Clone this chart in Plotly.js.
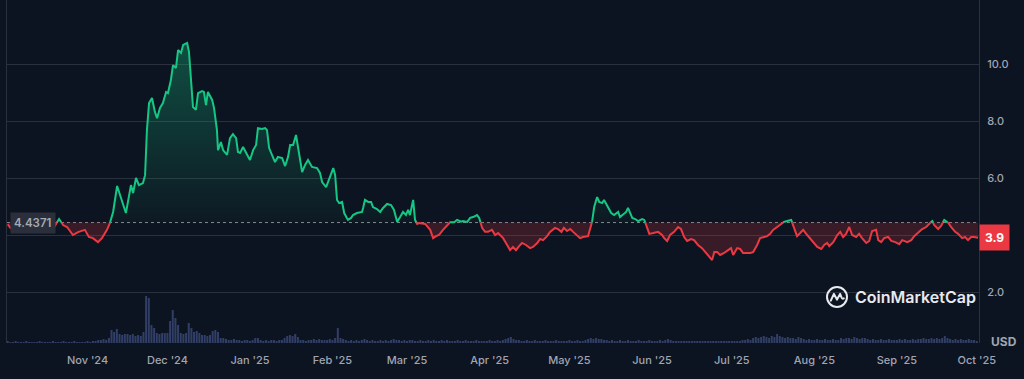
<!DOCTYPE html>
<html>
<head>
<meta charset="utf-8">
<script src="https://cdn.plot.ly/plotly-3.0.1.min.js"></script>
<style>
  html, body { margin: 0; padding: 0; background: #0d1421; }
  #chart { width: 1024px; height: 379px; }
</style>
</head>
<body>
<div id="chart"></div>
<script>
// ---- Data ----
const startDate = '2024-10-02';          // first day of the series
const basePrice = 4.4371;                 // reference (opening) price
const lastPrice = 3.9;

// day offsets from startDate and the price (USD) at each
const priceDays = [
  0,1,3,5,7,9,11,13,15,17.0,19.3,20.8,22.3,24.5,26.4,29.0,30.5,32.0,33.9,35.4,
  37.3,38.4,39.6,41.1,42.9,44.4,46.3,47.1,48.2,49.3,50.8,51.6,52.3,53.1,54.2,55.3,56.1,57.2,58.3,59.5,
  60.2,61.3,62.1,63.2,64.0,65.1,65.9,67.4,68.1,68.9,69.6,70.7,71.5,73.0,73.7,74.5,75.2,76.8,77.5,78.6,
  79.0,80.1,80.9,82.4,83.5,84.6,85.8,86.5,87.3,88.4,89.9,91.0,92.2,93.3,94.0,95.5,96.7,97.4,98.2,99.3,
  100.4,101.5,103.1,104.2,105.3,106.1,107.2,108.3,109.1,110.6,111.7,112.8,114.3,116.2,117.3,118.1,119.6,120.3,121.5,122.3,
  123.0,123.7,124.5,125.6,126.4,127.8,129.0,129.7,131.2,133.1,133.5,134.2,135.4,136.5,137.2,138.7,139.9,141.0,142.5,144.0,
  145.1,146.3,147.4,148.5,149.6,150.4,151.1,152.3,153.0,153.8,154.5,155.7,156.8,158.7,159.8,160.9,162.0,163.5,165.0,166.2,
  167.7,168.8,170.3,171.0,172.6,173.7,174.8,176.3,177.1,178.2,179.3,180.4,181.9,183.1,184.2,186.1,187.6,188.7,189.8,190.9,
  192.1,193.2,194.7,196.2,197.3,198.9,200.0,201.1,202.6,203.7,205.6,206.7,208.0,208.9,210.1,211.3,212.4,213.9,215.0,216.1,
  218.0,219.5,220.3,221.4,222.2,223.3,224.0,225.5,226.7,227.8,229.3,230.0,231.2,232.3,233.0,234.6,235.7,236.8,238.3,239.1,
  240.2,241.0,242.5,244.3,245.8,246.6,247.7,248.8,250.3,251.8,252.9,254.1,255.2,256.7,257.8,259.3,260.8,262.0,263.1,264.6,
  265.4,266.5,267.6,269.1,270.6,271.7,272.5,274.0,275.1,276.2,277.4,278.9,280.0,281.5,282.6,283.8,285.3,286.4,287.5,289.0,
  290.1,291.6,292.8,294.3,295.0,295.8,296.5,297.7,298.8,300.3,301.4,302.9,304.1,305.6,306.7,307.8,308.6,310.1,311.6,312.7,
  313.8,314.9,316.1,317.2,318.7,319.8,320.9,322.5,323.6,324.7,326.2,327.0,328.1,329.2,330.7,331.9,333.4,334.9,336.0,337.9,
  339.4,340.5,342.0,343.5,345.0,346.1,347.3,348.0,349.5,350.6,351.8,353.3,354.4,355.9,357.0,358.5,359.6,360.7,361.9,363.0,
  364.5
];
const priceValues = [
  4.38,4.25,4.30,4.22,4.35,4.28,4.20,4.32,4.25,4.21,4.56,4.35,4.28,4.00,4.10,4.18,3.93,3.89,3.75,3.89,
  4.18,4.42,4.81,5.72,5.23,4.77,5.75,5.47,6.00,5.75,5.82,6.10,7.68,8.63,8.81,8.32,8.10,8.46,8.63,9.02,
  8.98,9.44,9.96,9.86,10.49,10.39,10.67,10.74,10.42,9.44,8.49,8.39,8.98,9.05,9.02,8.56,9.02,8.74,8.46,7.68,
  6.98,7.26,6.98,6.81,7.40,7.54,7.40,6.91,6.88,7.09,6.81,6.63,6.98,7.16,7.75,7.72,7.75,7.68,7.05,6.81,
  6.56,6.74,6.70,6.42,6.74,7.16,7.16,7.51,7.09,6.21,6.46,6.63,6.39,6.35,6.18,5.86,5.68,5.86,6.10,6.35,
  6.10,5.23,5.12,5.16,4.77,4.53,4.60,4.70,4.77,4.81,4.95,5.23,5.16,5.16,4.98,4.91,4.81,4.95,5.09,5.05,
  4.88,4.46,4.63,4.81,4.70,4.88,4.70,5.23,4.53,4.39,4.42,4.40,4.39,4.18,3.89,3.96,4.00,4.18,4.32,4.45,
  4.45,4.53,4.47,4.49,4.46,4.60,4.63,4.70,4.60,4.25,4.11,4.11,4.18,4.00,4.07,3.89,3.65,3.47,3.58,3.47,
  3.61,3.72,3.65,3.54,3.58,3.72,3.86,3.82,3.96,4.11,4.25,4.21,4.11,4.25,4.14,4.21,4.11,4.00,3.89,3.93,
  3.96,4.46,4.98,5.33,5.16,5.12,5.23,4.95,4.77,4.70,4.81,4.63,4.74,4.81,4.95,4.60,4.56,4.49,4.56,4.53,
  4.28,4.04,4.07,4.11,4.00,3.89,3.79,4.00,4.11,4.28,4.21,3.93,3.79,3.86,3.82,3.65,3.54,3.40,3.26,3.12,
  3.40,3.40,3.30,3.37,3.47,3.54,3.30,3.54,3.51,3.37,3.37,3.37,3.40,3.65,3.89,3.93,3.96,4.04,4.18,4.28,
  4.35,4.46,4.49,4.53,4.35,4.07,3.96,4.07,4.18,4.00,3.89,3.72,3.58,3.51,3.65,3.72,3.61,3.75,4.00,4.11,
  3.93,4.04,4.28,4.00,3.93,4.04,3.89,3.72,3.79,4.14,4.18,3.82,3.75,3.89,3.93,3.79,3.75,3.68,3.82,3.75,
  3.82,3.96,4.07,4.21,4.28,4.39,4.49,4.35,4.21,4.32,4.53,4.42,4.28,4.11,4.04,3.89,3.93,3.82,3.93,3.93,
  3.90
];

// daily trading volume (relative units, one bar per day from startDate)
const volumeDaily = [
  2,1,1,2,1,1,1,2,1,1,  1,1,2,1,1,1,1,2,1,1,  1,2,1,1,1,2,1,1,1,1,
  2,1,2,2,3,3,4,3,5,13, 11,14,9,8,9,9,8,9,7,8, 7,11,47,45,18,15,10,9,10,10,
  10,22,33,25,18,10,9,10,20,15, 11,12,10,8,8,7,8,12,13,11, 5,5,4,3,3,4,3,3,2,3,
  3,2,3,5,5,3,2,3,2,3, 3,2,3,3,5,7,8,7,9,6, 3,3,2,3,3,4,3,4,3,3,
  3,4,3,5,15,5,4,3,2,3, 2,3,2,3,4,3,2,3,2,2, 3,2,3,2,3,4,3,3,2,3,
  2,3,3,2,2,3,2,2,3,2, 3,2,2,3,2,3,2,2,2,3, 2,2,3,2,2,2,3,2,2,2,
  2,3,2,2,3,2,3,4,5,6, 4,3,3,2,2,3,2,2,3,2, 2,2,3,2,2,2,3,2,2,2,
  2,3,2,2,3,2,2,3,4,5, 4,5,4,4,3,3,2,3,2,2, 3,2,2,3,2,2,2,3,2,2,
  2,3,2,2,2,3,2,3,4,3, 2,2,2,2,2,2,2,2,2,2, 2,2,2,2,2,2,2,2,2,2,
  2,2,2,2,2,2,3,3,4,3, 5,6,5,6,7,6,5,7,6,9, 7,6,5,6,5,5,4,6,5,4,
  3,4,3,3,4,3,3,4,3,3, 4,3,3,5,4,5,5,4,6,5, 4,5,5,4,3,4,3,3,4,3,
  3,4,3,3,3,4,3,4,3,3, 4,3,4,4,5,4,4,5,4,5, 4,5,7,5,4,3,4,3,4,3,
  3,4,3,3,2
];

const monthTicks = ['2024-11-01','2024-12-01','2025-01-01','2025-02-01','2025-03-01','2025-04-01',
                    '2025-05-01','2025-06-01','2025-07-01','2025-08-01','2025-09-01','2025-10-01'];
const monthLabels = ["Nov '24","Dec '24","Jan '25","Feb '25","Mar '25","Apr '25",
                     "May '25","Jun '25","Jul '25","Aug '25","Sep '25","Oct '25"];
const priceTicks = [2, 4, 6, 8, 10];
const priceTickLabels = ['2.0', '', '6.0', '8.0', '10.0'];

// ---- helpers ----
const DAY = 86400000;
const t0 = Date.parse(startDate + 'T00:00:00Z');
function dayToDate(d) {
  return new Date(t0 + d * DAY).toISOString().slice(0, 19).replace('T', ' ');
}

// insert crossing points with the base price so the colours split exactly there
const denseX = [], denseY = [];
for (let i = 0; i < priceDays.length; i++) {
  denseX.push(priceDays[i]); denseY.push(priceValues[i]);
  if (i < priceDays.length - 1) {
    const a = priceValues[i] - basePrice, b = priceValues[i + 1] - basePrice;
    if (a * b < 0) {
      const t = a / (a - b);
      denseX.push(priceDays[i] + t * (priceDays[i + 1] - priceDays[i]));
      denseY.push(basePrice);
    }
  }
}
const xDates = denseX.map(dayToDate);
const upLine = denseY.map(v => v >= basePrice ? v : null);
const downLine = denseY.map(v => v <= basePrice ? v : null);
const upFill = denseY.map(v => Math.max(v, basePrice));
const downFill = denseY.map(v => Math.min(v, basePrice));
const baseLine = denseY.map(() => basePrice);

const green = '#16c784', red = '#ea3943';

const volX = volumeDaily.map((_, i) => dayToDate(i));

const traces = [
  { type: 'bar', x: volX, y: volumeDaily, yaxis: 'y2', marker: { color: 'rgba(72,88,145,0.62)' },
    hoverinfo: 'skip' },
  { type: 'scatter', mode: 'lines', x: xDates, y: baseLine, line: { width: 0 }, hoverinfo: 'skip' },
  { type: 'scatter', mode: 'lines', x: xDates, y: upFill, line: { width: 0 }, fill: 'tonexty',
    fillcolor: 'rgba(22,199,132,0.18)',
    fillgradient: { type: 'vertical', start: basePrice, stop: 10.8,
      colorscale: [[0, 'rgba(22,199,132,0.03)'], [1, 'rgba(22,199,132,0.33)']] },
    hoverinfo: 'skip' },
  { type: 'scatter', mode: 'lines', x: xDates, y: baseLine, line: { width: 0 }, hoverinfo: 'skip' },
  { type: 'scatter', mode: 'lines', x: xDates, y: downFill, line: { width: 0 }, fill: 'tonexty',
    fillcolor: 'rgba(234,57,67,0.2)', hoverinfo: 'skip' },
  { type: 'scatter', mode: 'lines', x: xDates, y: upLine, line: { color: green, width: 2 },
    connectgaps: false, hoverinfo: 'skip' },
  { type: 'scatter', mode: 'lines', x: xDates, y: downLine, line: { color: red, width: 2 },
    connectgaps: false, hoverinfo: 'skip' }
];

const font = 'Inter, "Noto Sans", sans-serif';
const gridCol = 'rgba(255,255,255,0.12)';

const cmcLogo = 'data:image/svg+xml;charset=utf-8,' + encodeURIComponent(
  '<svg xmlns="http://www.w3.org/2000/svg" width="48" height="48" viewBox="0 0 24 24">' +
  '<circle cx="12" cy="12" r="10" fill="none" stroke="#e8eaee" stroke-width="2"/>' +
  '<path d="M5.8 15.6 L8.9 8.9 L12 14.6 L15.1 8.9 L16.6 12.6 Q17.4 14.2 18.8 13.4" fill="none" stroke="#e8eaee" stroke-width="2" stroke-linejoin="round" stroke-linecap="round"/>' +
  '</svg>');

const layout = {
  width: 1024, height: 379,
  margin: { l: 7, r: 45, t: 0, b: 36 },
  paper_bgcolor: '#0d1421', plot_bgcolor: '#0d1421',
  showlegend: false,
  bargap: 0.25,
  font: { family: font, color: '#a0a5b1', size: 11 },
  xaxis: {
    type: 'date',
    range: [dayToDate(-0.26), dayToDate(364.84)],
    tickvals: monthTicks, ticktext: monthLabels,
    showgrid: false, zeroline: false, showline: false, ticks: '',
    ticklabelstandoff: 9,
    tickfont: { family: font, size: 11, color: '#a0a5b1', weight: 500 },
    fixedrange: true
  },
  yaxis: {
    side: 'right',
    range: [0.2105, 12.246],
    tickvals: priceTicks, ticktext: priceTickLabels,
    showgrid: true, gridcolor: gridCol, gridwidth: 1,
    zeroline: false, showline: true, mirror: true, linecolor: gridCol, linewidth: 1,
    ticks: '', ticklabelstandoff: 5,
    tickfont: { family: font, size: 11, color: '#a0a5b1', weight: 500 },
    fixedrange: true
  },
  yaxis2: { overlaying: 'y', range: [0, 343], visible: false, fixedrange: true },
  shapes: [
    { type: 'line', xref: 'paper', x0: 0, x1: 1, yref: 'y', y0: basePrice, y1: basePrice,
      line: { color: 'rgba(210,214,222,0.6)', width: 1, dash: 'dot' }, layer: 'below' }
  ],
  images: [
    { source: cmcLogo, xref: 'paper', yref: 'paper', x: (825 - 7) / 972, y: (343 - 285) / 343,
      sizex: 24 / 972, sizey: 24 / 343, xanchor: 'left', yanchor: 'top', sizing: 'contain', layer: 'above' }
  ],
  annotations: [
    { text: basePrice.toString(), xref: 'paper', x: 0, xanchor: 'left', xshift: 3,
      yref: 'y', y: basePrice, yanchor: 'middle', showarrow: false,
      bgcolor: '#2a2f3b', borderpad: 3,
      font: { family: font, size: 11.5, color: '#a4a9b4', weight: 600 } },
    { text: lastPrice.toFixed(1), xref: 'paper', x: 1, xanchor: 'left', xshift: 0,
      yref: 'y', y: lastPrice, yanchor: 'middle', showarrow: false,
      bgcolor: red, borderpad: 5,
      font: { family: font, size: 12, color: '#ffffff', weight: 700 } },
    { text: 'USD', xref: 'paper', x: 1, xanchor: 'left', xshift: 10,
      yref: 'paper', y: 0, yanchor: 'middle', yshift: 2, showarrow: false,
      font: { family: font, size: 12, color: '#a0a5b1', weight: 700 } },
    { text: 'CoinMarketCap', xref: 'paper', x: (853 - 7) / 972, xanchor: 'left',
      yref: 'paper', y: (343 - 297) / 343, yanchor: 'middle', showarrow: false,
      font: { family: font, size: 16, color: '#e8eaee', weight: 600 } }
  ]
};

Plotly.newPlot('chart', traces, layout, { displayModeBar: false, staticPlot: true });
</script>
</body>
</html>
